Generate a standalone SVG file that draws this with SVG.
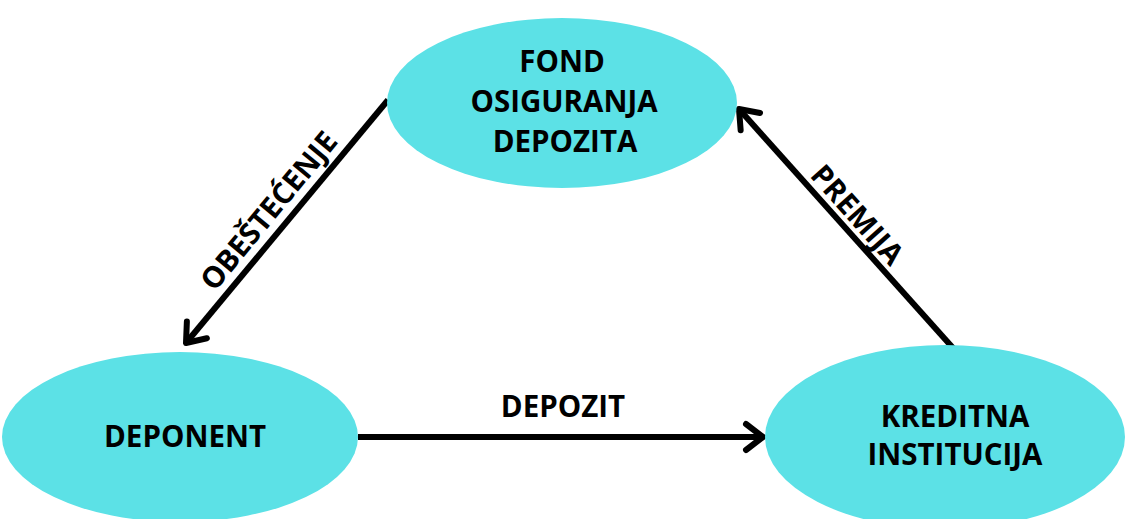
<svg xmlns="http://www.w3.org/2000/svg" width="1134" height="519" viewBox="0 0 1134 519">
<style>
.node{fill:#5ce1e6;}
.t{font-family:"Open Sans","Liberation Sans",Arial,sans-serif;font-weight:bold;font-size:29.5px;fill:#000;text-anchor:middle;}
.edge{fill:none;stroke:#000;stroke-width:6;}
</style>
<defs>
<marker id="ah" markerUnits="userSpaceOnUse" markerWidth="40" markerHeight="40" viewBox="-30 -20 40 40" refX="0" refY="0" orient="auto" overflow="visible">
<path d="M-17,-13 L0,0 L-17,13" fill="none" stroke="#000" stroke-width="6" stroke-linecap="round" stroke-linejoin="round"/>
</marker>
</defs>
<rect width="1134" height="519" fill="#fff"/>
<g id="connectors">
<path class="edge" d="M388,100 L186,343" marker-end="url(#ah)"/>
<path class="edge" d="M953,348 L739,109" marker-end="url(#ah)"/>
<path class="edge" d="M358,437 L763,437" marker-end="url(#ah)"/>
<text class="t" x="563" y="417">DEPOZIT</text>
<text class="t" transform="translate(269,211) rotate(-50.4)" x="0" y="10">OBEŠTEĆENJE</text>
<text class="t" transform="translate(857,215) rotate(48.3)" x="0" y="10">PREMIJA</text>
</g>
<g id="fond">
<ellipse class="node" cx="562" cy="103" rx="175" ry="85"/>
<text class="t" x="562" y="72">FOND</text>
<text class="t" x="564" y="112">OSIGURANJA</text>
<text class="t" x="565" y="152">DEPOZITA</text>
</g>
<g id="deponent">
<ellipse class="node" cx="180" cy="437" rx="178" ry="85"/>
<text class="t" x="185" y="447">DEPONENT</text>
</g>
<g id="kreditna">
<ellipse class="node" cx="945" cy="437" rx="180" ry="92"/>
<text class="t" x="955" y="427">KREDITNA</text>
<text class="t" x="955" y="465">INSTITUCIJA</text>
</g>
</svg>
